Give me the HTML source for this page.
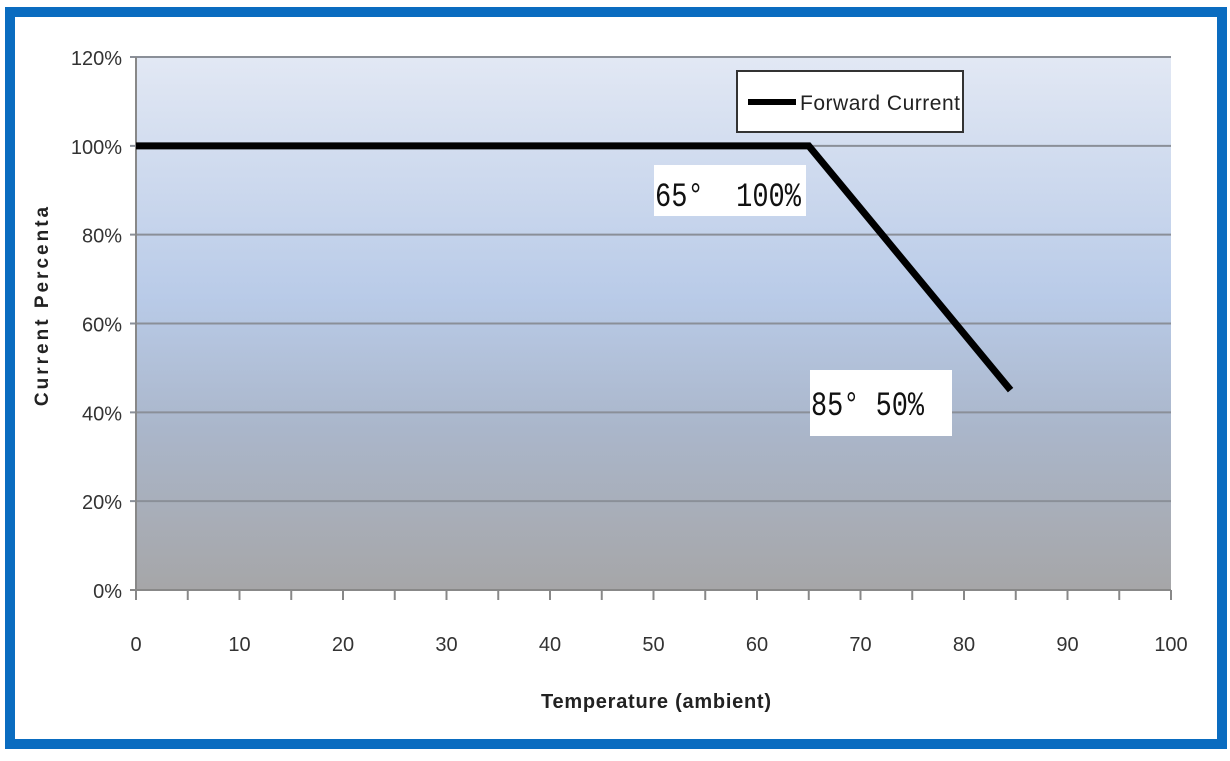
<!DOCTYPE html>
<html><head><meta charset="utf-8"><style>
body{margin:0;width:1230px;height:756px;overflow:hidden;background:#fff;font-family:"Liberation Sans",sans-serif}
</style></head><body>
<svg width="1230" height="756">
<defs><linearGradient id="bg" x1="0" y1="0" x2="0" y2="1">
<stop offset="0" stop-color="#e2e8f4"/><stop offset="0.45" stop-color="#b9cbe8"/><stop offset="0.7" stop-color="#aab6ca"/><stop offset="1" stop-color="#a6a6a8"/></linearGradient></defs>
<rect x="10" y="12" width="1212" height="732" fill="#fff" stroke="#0a6cc0" stroke-width="10"/>
<rect x="136" y="57" width="1035" height="533" fill="url(#bg)"/>
<g id="grid"></g><g id="axes"></g>
<text transform="translate(48,305) rotate(-90)" text-anchor="middle" font-size="19" font-weight="bold" letter-spacing="3" fill="#222">Current Percenta</text>
<text x="541" y="708" font-size="20" font-weight="bold" fill="#222" textLength="230">Temperature (ambient)</text>
<polyline id="line" fill="none" stroke="#000" stroke-width="7"/>
<g><rect x="737" y="71" width="226" height="61" fill="#fff" stroke="#333" stroke-width="2"/><line x1="748" y1="102" x2="796" y2="102" stroke="#000" stroke-width="6"/><text x="800" y="110" font-size="21" fill="#222" textLength="160">Forward Current</text></g>
<g><rect x="654" y="165" width="152" height="51" fill="#fff"/><text x="655" y="206" font-size="34" fill="#111" textLength="146" lengthAdjust="spacingAndGlyphs" font-family="Liberation Mono">65°&#160;&#160;100%</text></g>
<g><rect x="810" y="370" width="142" height="66" fill="#fff"/><text x="811" y="415" font-size="34" fill="#111" textLength="113" lengthAdjust="spacingAndGlyphs" font-family="Liberation Mono">85°&#160;50%</text></g>
</svg>
<script>
const xTicks=[0,10,20,30,40,50,60,70,80,90,100];
const yTicks=[0,20,40,60,80,100,120];
const temps=[0,65,84.5];
const currents=[100,100,45];
const X=v=>136+v/100*1035, Y=v=>590-v/120*533;
const ns="http://www.w3.org/2000/svg";
const grid=document.getElementById('grid'),axes=document.getElementById('axes');
function mk(tag,at,par){const e=document.createElementNS(ns,tag);for(const k in at)e.setAttribute(k,at[k]);par.appendChild(e);return e;}
yTicks.forEach(t=>{
 const l=mk('line',{x1:130,x2:1171,y1:Y(t),y2:Y(t),stroke:t==0?'#888':'#8a8f98','stroke-width':2},grid);
 
 
 const tx=mk('text',{x:122,y:Y(t)+8,'text-anchor':'end','font-size':20,fill:'#333'},axes);
 tx.textContent=t+'%';
 
 
});
mk('line',{x1:136,x2:136,y1:57,y2:590,stroke:'#888','stroke-width':2},axes);
for(let v=0;v<=100;v+=5){mk('line',{x1:X(v),x2:X(v),y1:590,y2:600,stroke:'#888','stroke-width':2},axes);}
xTicks.forEach(t=>{
 const tx=mk('text',{x:X(t),y:651,'text-anchor':'middle','font-size':20,fill:'#333'},axes);
 tx.textContent=t;
 
 
});
document.getElementById('line').setAttribute('points',temps.map((t,i)=>X(t)+','+Y(currents[i])).join(' '));
</script>
</body></html>
